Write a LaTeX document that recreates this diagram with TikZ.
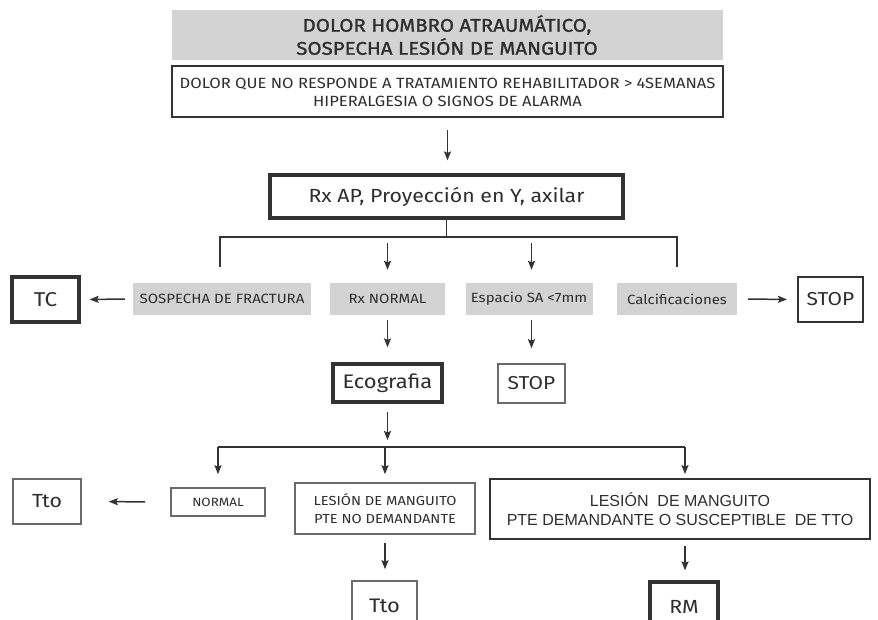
\documentclass[tikz,border=0pt]{standalone}
\usepackage{fontspec}
\setmainfont[FakeStretch=1.12]{Fira Sans}
\newfontfamily\arialf{Liberation Sans}
\newfontfamily\titlef[FakeStretch=1.12,FakeBold=1.2]{Fira Sans}
\usetikzlibrary{arrows.meta}
\definecolor{txt}{HTML}{2E2E2E}
\definecolor{boxgray}{HTML}{D3D3D3}
\definecolor{linec}{HTML}{333333}
\definecolor{thinc}{HTML}{6A6A6A}
\begin{document}
\begin{tikzpicture}[x=1pt,y=-1pt,
  every node/.style={text=txt, align=center, inner sep=0pt},
  graybox/.style={fill=boxgray, minimum height=32pt, font=\fontsize{13.4}{15}\selectfont},
  thickbox/.style={draw=linec, line width=3.2pt},
  medbox/.style={draw=linec, line width=2pt},
  thinbox/.style={draw=thinc, line width=1.6pt},
  conn/.style={draw=linec, line width=1.5pt},
  arr/.style={conn, -{Stealth[length=9pt,width=7pt,inset=1.5pt]}}]
\clip (0,0) rectangle (878,620);
\fill[white] (0,0) rectangle (878,620);
% top
\node[fill=boxgray, minimum width=551pt, minimum height=50pt,
  font=\titlef\fontsize{18.3}{23}\selectfont] (title) at (447,35)
  {DOLOR HOMBRO ATRAUMÁTICO,\\SOSPECHA LESIÓN DE MANGUITO};
\node[medbox, minimum width=551pt, minimum height=51pt,
  font=\fontsize{14.8}{18}\selectfont] (cond) at (447.5,92)
  {DOLOR QUE NO RESPONDE A TRATAMIENTO REHABILITADOR > 4SEMANAS\\HIPERALGESIA O SIGNOS DE ALARMA};
\node[thickbox, minimum width=353pt, minimum height=43pt,
  font=\fontsize{19}{22}\selectfont] (rx) at (446.5,196.5)
  {Rx AP, Proyección en Y, axilar};
% second row
\node[graybox, minimum width=178pt] (fract) at (222,299) {SOSPECHA DE FRACTURA};
\node[graybox, minimum width=115pt] (rxn) at (387.5,299) {Rx NORMAL};
\node[graybox, minimum width=127pt] (esp) at (529,299) {Espacio SA <7mm};
\node[graybox, minimum width=120pt] (calc) at (677,299) {Calcificaciones};
\node[thickbox, minimum width=67pt, minimum height=45pt,
  font=\fontsize{20}{22}\selectfont] (tc) at (45.5,299.5) {TC};
\node[medbox, minimum width=65pt, minimum height=45pt,
  font=\fontsize{18.7}{20}\selectfont] (stopA) at (830.5,299.5) {STOP};
% third row
\node[thickbox, minimum width=109pt, minimum height=38pt,
  font=\fontsize{19.6}{22}\selectfont] (eco) at (387.5,383) {Ecografia};
\node[thinbox, minimum width=67pt, minimum height=39pt,
  font=\fontsize{18.7}{20}\selectfont] (stopB) at (531.5,383.5) {STOP};
% fourth row
\node[thinbox, minimum width=94pt, minimum height=28pt,
  font=\fontsize{12}{14}\selectfont] (normal) at (218,502) {NORMAL};
\node[thinbox, minimum width=180pt, minimum height=51pt,
  font=\fontsize{13.1}{18}\selectfont] (lnd) at (385,508.5)
  {LESIÓN DE MANGUITO\\PTE NO DEMANDANTE};
\node[medbox, line width=1.8pt, minimum width=380pt, minimum height=60pt,
  font=\arialf\fontsize{16}{19}\selectfont] (ld) at (680,509)
  {LESIÓN\ \ DE MANGUITO\\PTE DEMANDANTE O SUSCEPTIBLE\ \ DE TTO};
\node[thinbox, minimum width=68pt, minimum height=45pt,
  font=\fontsize{19}{20}\selectfont] (ttoA) at (47,501.5) {Tto};
% fifth row
\node[thinbox, minimum width=65pt, minimum height=50pt,
  font=\fontsize{19.6}{20}\selectfont] (ttoB) at (384.5,606) {Tto};
\node[thickbox, minimum width=68pt, minimum height=50pt,
  font=\fontsize{19}{20}\selectfont] (rm) at (684,607) {RM};
% bus coordinates
\coordinate (b1L) at (220,237);
\coordinate (b1R) at (677,237);
\coordinate (b1Ld) at (220,267);
\coordinate (b1Rd) at (677,267);
\coordinate (b2L) at (218,447);
\coordinate (b2R) at (685,447);
% connectors
\draw[arr, shorten <=12pt, shorten >=13pt] (cond.south) -- (cond.south |- rx.north);
\draw[conn] (rx.south) -- (rx.south |- b1L);
\draw[conn] (b1Ld) -- (b1L) -- (b1R) -- (b1Rd);
\draw[arr, shorten <=6pt, shorten >=13pt] (rxn.north |- b1L) -- (rxn.north);
\draw[arr, shorten <=6pt, shorten >=13pt] (stopB.north |- b1L) -- (stopB.north |- esp.north);
\draw[arr, shorten <=8pt, shorten >=9pt] (fract.west) -- (tc.east);
\draw[arr, shorten <=11pt, shorten >=10pt] (calc.east) -- (stopA.west);
\draw[arr, shorten <=5pt, shorten >=15pt] (rxn.south) -- (eco.north);
\draw[arr, shorten <=5pt, shorten >=15pt] (stopB.north |- esp.south) -- (stopB.north);
\draw[arr, shorten <=8pt, shorten >=7pt] (eco.south) -- (eco.south |- b2L);
\draw[conn] (b2L) -- (b2R);
\draw[arr, shorten >=13pt] (b2L) -- (normal.north);
\draw[arr, shorten >=8pt] (lnd.north |- b2L) -- (lnd.north);
\draw[arr, shorten >=4pt] (b2R) -- (b2R |- ld.north);
\draw[arr, shorten <=25pt, shorten >=27pt] (normal.west) -- (ttoA.east);
\draw[arr, shorten <=8pt, shorten >=11pt] (lnd.south) -- (lnd.south |- ttoB.north);
\draw[arr, shorten <=6pt, shorten >=10pt] (b2R |- ld.south) -- (b2R |- rm.north);
\end{tikzpicture}
\end{document}
